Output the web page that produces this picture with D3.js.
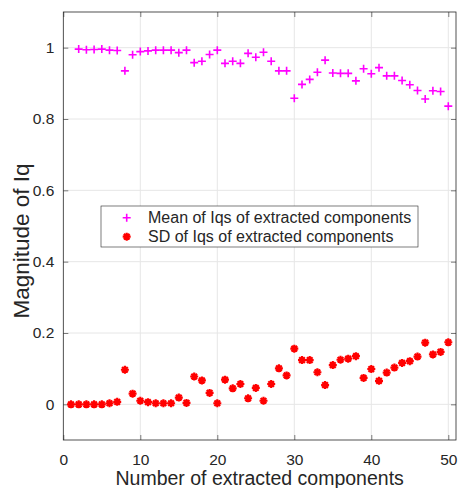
<!DOCTYPE html>
<html>
<head>
<meta charset="utf-8">
<script src="https://cdn.jsdelivr.net/npm/d3@7"></script>
<style>
  html, body { margin: 0; padding: 0; background: #fff; }
  svg { display: block; font-family: "Liberation Sans", Arial, Helvetica, sans-serif; }
</style>
</head>
<body>
<svg id="chart" width="459" height="488"></svg>
<script>
'use strict';

// Mean of Iqs, components 2..50 (none drawn at 1)
var meanStart = 2;
var meanValues = [
  0.996, 0.994, 0.995, 0.996, 0.993, 0.992, 0.935, 0.980, 0.989,
  0.991, 0.993, 0.993, 0.993, 0.986, 0.993, 0.958, 0.962, 0.981, 0.993,
  0.956, 0.962, 0.956, 0.984, 0.973, 0.987, 0.962, 0.935, 0.935, 0.858,
  0.897, 0.911, 0.931, 0.965, 0.929, 0.928, 0.928, 0.907, 0.941, 0.927,
  0.944, 0.921, 0.921, 0.908, 0.896, 0.880, 0.856, 0.879, 0.877, 0.836
];

// SD of Iqs, components 1..50
var sdStart = 1;
var sdValues = [
  0.000, 0.000, 0.000, 0.000, 0.000, 0.003, 0.007, 0.097, 0.030, 0.010,
  0.006, 0.003, 0.003, 0.003, 0.019, 0.004, 0.078, 0.067, 0.032, 0.003,
  0.069, 0.045, 0.057, 0.017, 0.046, 0.010, 0.057, 0.101, 0.081, 0.156,
  0.124, 0.124, 0.090, 0.054, 0.110, 0.125, 0.128, 0.135, 0.074, 0.099,
  0.066, 0.089, 0.103, 0.116, 0.121, 0.134, 0.173, 0.140, 0.147, 0.174
];

var xTicks = [0, 10, 20, 30, 40, 50];
var yTicks = [0, 0.2, 0.4, 0.6, 0.8, 1];
var legendLabels = ['Mean of Iqs of extracted components', 'SD of Iqs of extracted components'];

var margin = { left: 63.3, top: 12, right: 3, bottom: 48 };
var svg = d3.select('#chart');
var W = +svg.attr('width'), H = +svg.attr('height');
var w = W - margin.left - margin.right, h = H - margin.top - margin.bottom;

var x = d3.scaleLinear().domain([0, 51]).range([0, w]);
var y = d3.scaleLinear().domain([-0.1, 1.1]).range([h, 0]);

var axisColor = '#262626';
var g = svg.append('g').attr('transform', 'translate(' + margin.left + ',' + margin.top + ')');

// grid
g.append('g').selectAll('line').data(xTicks.slice(1)).join('line')
  .attr('x1', x).attr('x2', x).attr('y1', 0).attr('y2', h)
  .attr('stroke', '#e6e6e6').attr('stroke-width', 1);
g.append('g').selectAll('line').data(yTicks).join('line')
  .attr('y1', y).attr('y2', y).attr('x1', 0).attr('x2', w)
  .attr('stroke', '#e6e6e6').attr('stroke-width', 1);

// axes (ticks pointing inward, box on)
function styleAxis(sel) {
  sel.select('.domain').remove();
  sel.selectAll('.tick line').attr('stroke', axisColor).attr('stroke-width', 0.6);
  sel.selectAll('.tick text').attr('fill', axisColor).attr('font-size', '15.5px');
}
g.append('g').attr('transform', 'translate(0,' + h + ')')
  .call(d3.axisBottom(x).tickValues(xTicks).tickSize(-5).tickPadding(14).tickFormat(d3.format('d')))
  .call(styleAxis);
g.append('g')
  .call(d3.axisLeft(y).tickValues(yTicks).tickSize(-5).tickPadding(9).tickFormat(d3.format('~g')))
  .call(styleAxis);
g.append('g')
  .call(d3.axisTop(x).tickValues(xTicks).tickSize(-5).tickFormat(''))
  .call(styleAxis);
g.append('g').attr('transform', 'translate(' + w + ',0)')
  .call(d3.axisRight(y).tickValues(yTicks).tickSize(-5).tickFormat(''))
  .call(styleAxis);

g.append('rect').attr('width', w).attr('height', h)
  .attr('fill', 'none').attr('stroke', axisColor).attr('stroke-width', 0.8);

// markers
var plusSym = {
  draw: function(ctx, size) {
    var r = Math.sqrt(size) / 2;
    ctx.moveTo(-r, 0); ctx.lineTo(r, 0);
    ctx.moveTo(0, -r); ctx.lineTo(0, r);
  }
};
var starSym = {
  draw: function(ctx, size) {
    var r = Math.sqrt(size) / 2, d = r * 0.7071;
    ctx.moveTo(-r, 0); ctx.lineTo(r, 0);
    ctx.moveTo(0, -r); ctx.lineTo(0, r);
    ctx.moveTo(-d, -d); ctx.lineTo(d, d);
    ctx.moveTo(-d, d); ctx.lineTo(d, -d);
  }
};
var plusPath = d3.symbol().type(plusSym).size(64)();
var starPath = d3.symbol().type(starSym).size(64)();

g.append('g').selectAll('path').data(meanValues).join('path')
  .attr('d', plusPath)
  .attr('transform', function(d, i) { return 'translate(' + x(i + meanStart) + ',' + y(d) + ')'; })
  .attr('fill', 'none').attr('stroke', '#ff00ff').attr('stroke-width', 1.6);

g.append('g').selectAll('path').data(sdValues).join('path')
  .attr('d', starPath)
  .attr('transform', function(d, i) { return 'translate(' + x(i + sdStart) + ',' + y(d) + ')'; })
  .attr('fill', 'none').attr('stroke', '#ff0000').attr('stroke-width', 2.2);

// axis labels
svg.append('text')
  .attr('x', margin.left + x(25.5)).attr('y', 485)
  .attr('text-anchor', 'middle').attr('fill', axisColor).attr('font-size', '19.5px')
  .text('Number of extracted components');
svg.append('text')
  .attr('transform', 'translate(28.5,241) rotate(-90)')
  .attr('text-anchor', 'middle').attr('fill', axisColor).attr('font-size', '22.5px')
  .text('Magnitude of Iq');

// legend
var leg = svg.append('g').attr('transform', 'translate(101,206)');
leg.append('rect').attr('width', 317).attr('height', 41)
  .attr('fill', '#fff').attr('stroke', axisColor).attr('stroke-width', 0.6);
var rows = leg.selectAll('g.row').data(legendLabels).join('g')
  .attr('class', 'row')
  .attr('transform', function(d, i) { return 'translate(0,' + (11.7 + i * 19) + ')'; });
rows.append('path')
  .attr('d', function(d, i) { return i === 0 ? plusPath : starPath; })
  .attr('transform', 'translate(25.7,0)')
  .attr('fill', 'none')
  .attr('stroke', function(d, i) { return i === 0 ? '#ff00ff' : '#ff0000'; })
  .attr('stroke-width', function(d, i) { return i === 0 ? 1.6 : 2.2; });
rows.append('text')
  .attr('x', 47).attr('dy', '0.35em')
  .attr('fill', axisColor).attr('font-size', '16px')
  .text(function(d) { return d; });
</script>
</body>
</html>
